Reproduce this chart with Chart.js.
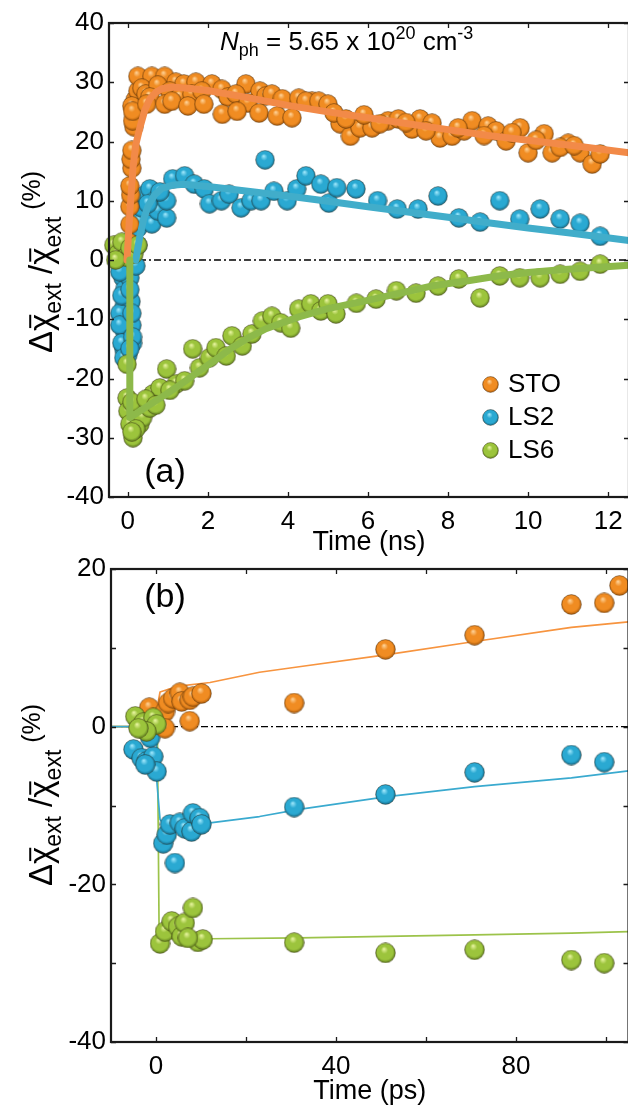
<!DOCTYPE html>
<html>
<head>
<meta charset="utf-8">
<script src="https://cdn.jsdelivr.net/npm/chart.js@4.4.1/dist/chart.umd.min.js"></script>
<style>
  html, body { margin: 0; padding: 0; background: #fff; overflow: hidden; }
  #wrapA { position: absolute; left: 0; top: 0; width: 640px; height: 570px; }
  #wrapB { position: absolute; left: 0; top: 545px; width: 640px; height: 570px; }
</style>
</head>
<body>
<div id="wrapA"><canvas id="chartA" width="640" height="570"></canvas></div>
<div id="wrapB"><canvas id="chartB" width="640" height="570"></canvas></div>
<script>
// ---- panel (a): ns range ----
var stoTimeA = [0.02, 0.05, 0.05, 0.07, 0.05, 0.1, 0.08, 0.1, 0.15, 0.12, 0.2, 0.18, 0.25, 0.25,
  0.6, 0.92, 1.2, 1.4, 1.7, 2.1, 2.35, 2.95, 3.3, 3.45, 3.6, 3.86, 4.27, 4.6,
  0.35, 0.45, 0.75, 0.55, 1.05, 1.3, 1.6, 1.85, 2.5, 2.7, 3.0,
  0.1, 0.12, 0.47, 0.92, 1.1, 1.5, 1.9, 2.36, 2.73, 3.28, 3.73, 4.1,
  4.45, 4.77, 5.0, 5.3, 5.56, 5.8, 6.1, 6.5, 6.76, 7.1, 7.3, 7.6, 7.8, 8.1, 8.4, 8.6, 9.0, 9.2, 9.45, 9.8,
  10.0, 10.4, 10.6, 11.0, 11.3, 11.6, 11.8,
  5.15, 5.45, 5.9, 6.3, 6.95, 7.45, 8.25, 8.9, 9.6, 10.2, 10.8, 11.15];
var stoValA = [3, 6, 9, 11, 12.5, 15.5, 17, 18.5, 22.5, 23.5, 25.5, 27, 28.5, 31,
  31, 31, 30, 29.7, 30, 29.7, 28.8, 29.7, 28.5, 27.7, 28, 27.2, 27.3, 26.8,
  29, 28, 29.5, 27.5, 28.5, 27.5, 28, 28.5, 27.5, 28, 26.5,
  26, 25.1, 26.3, 26.3, 26.8, 26, 26.3, 24.6, 25.1, 24.8, 24.3, 24,
  26.8, 26.8, 26.3, 23, 20.9, 22.3, 22.3, 23.5, 23.8, 22.1, 23.8, 23.1, 20.6, 20.9, 21.8, 23.5, 22.6, 21.8, 20.1, 22.3,
  18.1, 21.3, 18.1, 19.7, 18.1, 16.2, 17.9,
  24.8, 23.8, 24.5, 23, 23.2, 21.8, 22.3, 21, 21.5, 20.2, 19, 19.3];

var ls2TimeA = [-0.15, -0.1, -0.05, -0.12, -0.08, -0.05, -0.1, -0.05, -0.08, -0.05, -0.1, 0.0, 0.05, 0.08, 0.1, 0.1, 0.15, -0.2, 0.12,
  -0.2, -0.15, -0.2, -0.15, 0.05, 0.1, 0.12, -0.1, 0.05, -0.25, 0.2, 0.25,
  0.25, 0.3, 0.35, 0.42, 0.55, 0.6, 0.67, 0.75, 0.97, 0.97, 0.8, 0.5,
  1.12, 1.42, 1.66, 1.91, 2.04, 2.34, 2.53, 2.83, 3.08, 3.33, 3.43, 3.65, 3.98, 4.22, 4.45, 4.82, 5.02, 5.22,
  5.7, 6.24, 6.73, 7.25, 7.75, 8.27, 8.8, 9.29, 9.79, 10.3, 10.8, 11.3, 11.8];
var ls2ValA = [2, 0.5, -1.5, -3, -5, -6.5, -8, -10, -12, -13.5, -15, -16, -3, -7, -11, 1.5, 3, -9, -14,
  -2, -6, -11, -14, -5, -9, -13, -16.5, -15, 1, -1, 2.5,
  5.4, 6.6, 8.8, 11, 12, 6.1, 10, 8.3, 7.1, 10, 11.5, 9.5,
  13.7, 14.2, 12.8, 12, 9.5, 10, 11.1, 8.8, 10, 10, 16.9, 11.6, 10, 12, 14.2, 12.8, 9.6, 12.2,
  12, 10, 8.6, 8.6, 10.8, 7.1, 6.4, 10, 6.9, 8.6, 6.9, 6.2, 4];

var ls6TimeA = [-0.35, -0.25, -0.15, -0.05, 0.05, 0.15, 0.25, -0.3,
  -0.02, -0.02, 0.0, 0.05, 0.13, 0.3, 0.37, 0.55, 0.63, 0.8, 0.97, 1.21, 1.42, 1.62, 1.79, 2.04, 2.2, 2.46,
  2.6, 2.86, 3.1, 3.36, 3.6, 3.82, 4.07, 4.27, 4.57,
  0.1, 0.2, 0.45, 0.7, 0.1, 1.05,
  4.82, 5.0, 5.2, 5.71, 6.2, 6.71, 7.2, 7.75, 8.27, 8.8, 9.29, 9.79, 10.3, 10.8, 11.3, 11.8];
var ls6ValA = [2.5, 1, 3, 0.5, 2, 1, 2.5, 0,
  -17.6, -23.3, -25.5, -27.7, -30, -27.7, -26.6, -25, -22.6, -21.6, -18.4, -20.9, -20.4, -15, -18.2, -16.5, -14.8, -16.2,
  -12.8, -14.5, -12.5, -10.3, -9.5, -10.6, -11.5, -8.3, -7.4,
  -24, -28.5, -23.5, -24.5, -29, -22,
  -8.6, -7.4, -9.1, -7.3, -6.6, -5.2, -5.6, -4.4, -3.2, -6.4, -2.7, -3, -3, -2.4, -1.9, -0.7];

// fitted curves, panel (a)
var stoFitTA = [-0.02, 0.05, 0.13, 0.2, 0.3, 0.42, 0.55, 0.7, 0.85, 1.1, 1.5, 2, 3, 4, 5, 6, 7, 8, 9, 10, 11, 12.52];
var stoFitVA = [0, 8, 15.6, 19.5, 22.3, 25.2, 27.2, 28.3, 28.9, 29.2, 29.0, 28.6, 27.4, 26.1, 25.0, 24.0, 23.0, 22.0, 21.0, 20.2, 19.4, 18.1];
var ls2FitTA = [0.2, 0.25, 0.3, 0.4, 0.5, 0.67, 0.85, 1.1, 1.4, 2, 3, 4, 5, 6, 7, 8, 9, 10, 11, 12.52];
var ls2FitVA = [0, 2, 4, 7, 9, 11, 12.1, 12.6, 12.8, 12.4, 11.6, 10.8, 9.9, 9.0, 8.1, 7.2, 6.3, 5.4, 4.6, 3.3];
var ls6FitTA = [0.05, 0.05, 0.3, 0.6, 0.97, 1.4, 1.79, 2.2, 2.6, 3.0, 3.45, 4.27, 5, 5.93, 7, 7.58, 8.5, 9.24, 10, 10.9, 12.52];
var ls6FitVA = [0, -26.6, -25.5, -24.2, -22.6, -20.6, -18.7, -16.8, -14.8, -13.2, -11.6, -9.6, -8.2, -6.9, -5.3, -4.4, -3.5, -2.7, -2.1, -1.6, -0.9];

var xTicksA = [0, 2, 4, 6, 8, 10, 12];
var yTicksA = [-40, -30, -20, -10, 0, 10, 20, 30, 40];

// ---- panel (b): ps range ----
var stoTimeB = [-1.5, 2.0, 2.7, 3.8, 5.3, 5.7, 7.5, 8.2, 10.1, 7.5, 2.0, 30.7, 51, 70.8, 92.3, 99.6, 103];
var stoValB = [2.4, 1.9, 3.0, 3.6, 4.3, 3.2, 3.4, 3.8, 4.2, 0.7, -0.2, 3.0, 9.8, 11.6, 15.5, 15.7, 17.9];
var ls2TimeB = [-5.0, -3.2, -2.1, -0.6, -1.3, 0.15, -2.4,
  1.6, 2.4, 3.1, 5.3, 6.4, 7.9, 8.2, 9.7, 10.1, 4.2, 30.7, 51, 70.8, 92.3, 99.6];
var ls2ValB = [-2.9, -4.0, -4.4, -3.8, -1.4, -5.7, -4.8,
  -14.8, -13.7, -12.4, -12.2, -12.9, -13.3, -11.0, -11.6, -12.4, -17.3, -10.2, -8.6, -5.8, -3.6, -4.5];
var ls6TimeB = [-4.6, -2.8, -0.6, 0.15, -2.1, -3.9,
  0.9, 2.0, 3.5, 4.9, 5.7, 6.4, 8.2, 9.3, 10.4, 7.1, 30.7, 51, 70.8, 92.3, 99.6];
var ls6ValB = [1.3, 0.5, 1.1, 0.3, -0.6, -0.2,
  -27.5, -26.0, -24.7, -25.4, -26.6, -24.9, -23.0, -27.3, -27.0, -26.8, -27.4, -28.7, -28.3, -29.6, -30];

var stoFitTB = [-10, 0, 0.3, 0.9, 4.6, 12, 23, 31.8, 51, 70.8, 92.3, 105];
var stoFitVB = [0, 0, 2.5, 4.4, 5.1, 5.6, 6.9, 7.6, 9.1, 10.8, 12.6, 13.3];
var ls2FitTB = [-10, 0.1, 0.15, 0.9, 1.6, 12, 23, 31.8, 51, 70.8, 92.3, 105];
var ls2FitVB = [0, 0, -6.7, -11.8, -12.2, -12.2, -11.4, -10.5, -8.9, -7.6, -6.5, -5.6];
var ls6FitTB = [-10, 0.3, 0.7, 1.2, 12, 31.8, 51, 70.8, 92.3, 105];
var ls6FitVB = [0, 0, -26.7, -26.9, -26.9, -26.8, -26.6, -26.4, -26.2, -26.0];

var xTicksB = [0, 20, 40, 60, 80, 100];
var xLabelsB = [0, 40, 80];
var yTicksB = [-40, -30, -20, -10, 0, 10, 20];
var yLabelsB = [-40, -20, 0, 20];

var seriesNames = ['STO', 'LS2', 'LS6'];

var FONT = "'Liberation Sans', Arial, Helvetica, sans-serif";
Chart.defaults.font.family = FONT;
Chart.defaults.color = '#000';

function zip(xs, ys) {
  return xs.map(function (x, i) { return { x: x, y: ys[i] }; });
}

// shaded ball used as point marker
function makeBall(d, light, base, dark) {
  var c = document.createElement('canvas');
  c.width = d; c.height = d;
  var g = c.getContext('2d');
  var r = d / 2;
  var grad = g.createRadialGradient(r * 0.85, r * 0.6, 0, r, r, r);
  grad.addColorStop(0, light);
  grad.addColorStop(0.35, base);
  grad.addColorStop(0.75, base);
  grad.addColorStop(1, dark);
  g.fillStyle = grad;
  g.beginPath();
  g.arc(r, r, r - 0.6, 0, Math.PI * 2);
  g.fill();
  g.strokeStyle = 'rgba(50,35,15,0.4)';
  g.lineWidth = 0.9;
  g.stroke();
  return c;
}

var ballColors = {
  STO: ['#ffd7a0', '#f08c22', '#a05205'],
  LS2: ['#a8ecff', '#2aa9d2', '#12627f'],
  LS6: ['#eef8a8', '#9cc43c', '#55731a']
};
function ball(name, d) {
  var c = ballColors[name];
  return makeBall(d, c[0], c[1], c[2]);
}

// inward tick marks plus the boxed frame
function frameTicks(ctx, chart) {
  var a = chart.chartArea, xs = chart.scales.x, ys = chart.scales.y;
  ctx.save();
  ctx.strokeStyle = '#1a1a1a';
  ctx.lineWidth = 1.3;
  ctx.beginPath();
  xs.ticks.forEach(function (t) {
    var px = Math.round(xs.getPixelForValue(t.value)) + 0.5;
    ctx.moveTo(px, a.bottom); ctx.lineTo(px, a.bottom - 5);
    ctx.moveTo(px, a.top); ctx.lineTo(px, a.top + 5);
  });
  ys.ticks.forEach(function (t) {
    var py = Math.round(ys.getPixelForValue(t.value)) + 0.5;
    ctx.moveTo(a.left, py); ctx.lineTo(a.left + 5, py);
    ctx.moveTo(a.right, py); ctx.lineTo(a.right - 5, py);
  });
  ctx.stroke();
  ctx.lineWidth = 2.2;
  ctx.strokeRect(a.left, a.top, a.right - a.left, a.bottom - a.top);
  ctx.restore();
}

function drawYLabel(ctx, baseX, centerY) {
  var parts = [
    { t: '\u0394', size: 33, dy: 0 },
    { t: '\u03c7', size: 33, dy: 0, bar: true },
    { t: 'ext', size: 23, dy: 9 },
    { t: ' /', size: 33, dy: 0 },
    { t: '\u03c7', size: 33, dy: 0, bar: true },
    { t: 'ext', size: 23, dy: 9 },
    { t: ' (%)', size: 25, dy: -12 }
  ];
  ctx.save();
  ctx.translate(baseX, centerY);
  ctx.rotate(-Math.PI / 2);
  ctx.fillStyle = '#000';
  ctx.strokeStyle = '#000';
  ctx.textBaseline = 'alphabetic';
  var total = 0;
  parts.forEach(function (p) {
    ctx.font = p.size + 'px ' + FONT;
    p.w = ctx.measureText(p.t).width;
    total += p.w;
  });
  var u = -total / 2;
  parts.forEach(function (p) {
    ctx.font = p.size + 'px ' + FONT;
    ctx.fillText(p.t, u, p.dy);
    if (p.bar) {
      ctx.lineWidth = 2;
      ctx.beginPath();
      ctx.moveTo(u + 3, -p.size * 0.66);
      ctx.lineTo(u + p.w - 1, -p.size * 0.66);
      ctx.stroke();
    }
    u += p.w;
  });
  ctx.restore();
}

function drawRich(ctx, x, y, parts) {
  parts.forEach(function (p) {
    ctx.font = (p.italic ? 'italic ' : '') + p.size + 'px ' + FONT;
    ctx.fillText(p.t, x, y + (p.dy || 0));
    x += ctx.measureText(p.t).width;
  });
}

function zeroLine(x0, x1) {
  return {
    data: [{ x: x0, y: 0 }, { x: x1, y: 0 }],
    showLine: true, borderColor: '#000', borderWidth: 1.3,
    borderDash: [7, 3, 2, 3], pointRadius: 0, order: 10
  };
}

function fitLine(xs, ys, color, width, order) {
  return {
    data: zip(xs, ys), showLine: true, borderColor: color, borderWidth: width,
    borderCapStyle: 'round', borderJoinStyle: 'round', pointRadius: 0, tension: 0, order: order
  };
}

function dots(xs, ys, name, d, order) {
  return {
    data: zip(xs, ys), pointStyle: ball(name, d), pointRadius: d / 2,
    showLine: false, order: order, clip: false
  };
}

function axes(xmin, xmax, xt, xlab, ymin, ymax, yt, ylab, yWidth, title, titlePad) {
  return {
    x: {
      type: 'linear', min: xmin, max: xmax,
      afterBuildTicks: function (s) { s.ticks = xt.map(function (v) { return { value: v }; }); },
      afterFit: function (s) { s.height = 73; },
      ticks: {
        font: { size: 26 }, color: '#000', padding: 9, maxRotation: 0, autoSkip: false,
        callback: function (v) { return xlab.indexOf(v) >= 0 ? String(v) : ''; }
      },
      grid: { display: false, drawTicks: false },
      border: { display: false },
      title: { display: true, text: title, font: { size: 27 }, color: '#000', padding: { top: 0, bottom: titlePad } }
    },
    y: {
      type: 'linear', min: ymin, max: ymax,
      afterBuildTicks: function (s) { s.ticks = yt.map(function (v) { return { value: v }; }); },
      afterFit: function (s) { s.width = yWidth; },
      ticks: {
        font: { size: 26 }, color: '#000', padding: 5, autoSkip: false,
        callback: function (v) { return ylab.indexOf(v) >= 0 ? String(v) : ''; }
      },
      grid: { display: false, drawTicks: false },
      border: { display: false }
    }
  };
}

var baseOpts = {
  responsive: false, animation: false, events: [],
  plugins: { legend: { display: false }, tooltip: { enabled: false } }
};

// panel (a)
new Chart(document.getElementById('chartA'), {
  type: 'scatter',
  data: {
    datasets: [
      zeroLine(-0.47, 12.52),
      dots(ls2TimeA, ls2ValA, 'LS2', 20, 7),
      dots(stoTimeA, stoValA, 'STO', 20, 6),
      dots(ls6TimeA, ls6ValA, 'LS6', 20, 5),
      fitLine(ls2FitTA, ls2FitVA, '#41adca', 7, 2),
      fitLine(stoFitTA, stoFitVA, '#f28a48', 7, 1),
      fitLine(ls6FitTA, ls6FitVA, '#8db94a', 7, 0)
    ]
  },
  options: Object.assign({}, baseOpts, {
    layout: { padding: { top: 23, right: 8, left: 0, bottom: 0 } },
    scales: axes(-0.47, 12.52, xTicksA, xTicksA, -40, 40, yTicksA, yTicksA, 109, 'Time (ns)', 11)
  }),
  plugins: [{
    id: 'decorA',
    afterDatasetsDraw: function (chart) {
      var ctx = chart.ctx;
      frameTicks(ctx, chart);
      ctx.save();
      ctx.fillStyle = '#000';
      ctx.textBaseline = 'alphabetic';
      drawRich(ctx, 220, 50, [
        { t: 'N', size: 26, italic: true },
        { t: 'ph', size: 18, dy: 6 },
        { t: ' = 5.65 x 10', size: 26 },
        { t: '20', size: 18, dy: -11 },
        { t: ' cm', size: 26 },
        { t: '-3', size: 18, dy: -11 }
      ]);
      ctx.font = '34px ' + FONT;
      ctx.textBaseline = 'middle';
      ctx.textAlign = 'center';
      ctx.fillText('(a)', 165, 473);
      // legend
      ctx.textAlign = 'left';
      ctx.font = '26px ' + FONT;
      seriesNames.forEach(function (n, i) {
        var y = 384 + i * 33;
        ctx.drawImage(ball(n, 17), 482, y - 8);
        ctx.fillText(n, 508, y + 1);
      });
      ctx.restore();
      drawYLabel(ctx, 52, 262);
    }
  }]
});

// panel (b)
new Chart(document.getElementById('chartB'), {
  type: 'scatter',
  data: {
    datasets: [
      zeroLine(-10, 105),
      fitLine(ls6FitTB, ls6FitVB, '#9cc34a', 1.7, 9),
      fitLine(ls2FitTB, ls2FitVB, '#3aaacf', 1.7, 8),
      fitLine(stoFitTB, stoFitVB, '#f7943f', 1.7, 8),
      dots(ls2TimeB, ls2ValB, 'LS2', 21, 6),
      dots(stoTimeB, stoValB, 'STO', 21, 5),
      dots(ls6TimeB, ls6ValB, 'LS6', 21, 4)
    ]
  },
  options: Object.assign({}, baseOpts, {
    layout: { padding: { top: 24, right: 8, left: 0, bottom: 0 } },
    scales: axes(-10, 105, xTicksB, xLabelsB, -40, 20, yTicksB, yLabelsB, 111, 'Time (ps)', 7)
  }),
  plugins: [{
    id: 'decorB',
    afterDatasetsDraw: function (chart) {
      var ctx = chart.ctx;
      frameTicks(ctx, chart);
      ctx.save();
      ctx.fillStyle = '#000';
      ctx.font = '34px ' + FONT;
      ctx.textBaseline = 'middle';
      ctx.textAlign = 'center';
      ctx.fillText('(b)', 165, 53);
      ctx.restore();
      drawYLabel(ctx, 52, 250);
    }
  }]
});
</script>
</body>
</html>
